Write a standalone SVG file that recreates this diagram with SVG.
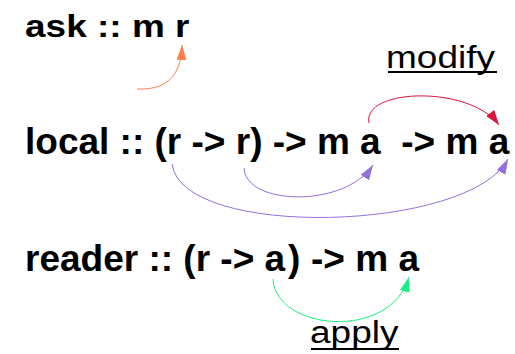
<svg xmlns="http://www.w3.org/2000/svg" width="515" height="354" viewBox="0 0 515 354">
  <style>
    .sig { font-family: "Liberation Sans", Arial, sans-serif; font-weight: bold; font-size: 37px; fill: #000; }
    .lbl { font-family: "Liberation Sans", Arial, sans-serif; font-size: 37px; fill: #000; }
    .ul { stroke: #000; stroke-width: 2; }
    .conn { fill: none; stroke-width: 1; }
  </style>
  <defs>
    <marker id="ah-orange" markerUnits="userSpaceOnUse" markerWidth="15" markerHeight="10" refX="15" refY="5" orient="auto"><path d="M0,0 L15,5 L0,10 z" fill="#ff7f50"/></marker>
    <marker id="ah-red" markerUnits="userSpaceOnUse" markerWidth="15" markerHeight="10" refX="15" refY="5" orient="auto"><path d="M0,0 L15,5 L0,10 z" fill="#dc143c"/></marker>
    <marker id="ah-purple" markerUnits="userSpaceOnUse" markerWidth="15" markerHeight="10" refX="15" refY="5" orient="auto"><path d="M0,0 L15,5 L0,10 z" fill="#9370db"/></marker>
    <marker id="ah-green" markerUnits="userSpaceOnUse" markerWidth="15" markerHeight="10" refX="15" refY="5" orient="auto"><path d="M0,0 L15,5 L0,10 z" fill="#1bee80"/></marker>
  </defs>

  <g id="ask">
    <text class="sig" transform="translate(25,36.5) scale(1,0.83)" x="0" y="0">ask :: m r</text>
  </g>

  <g id="modify-label">
    <text class="lbl" transform="translate(386,67.5) scale(1,0.85)" x="0" y="0">modify</text>
    <line class="ul" x1="388" y1="72" x2="497" y2="72"/>
  </g>

  <g id="local">
    <text class="sig" x="25" y="154">local :: (r -&gt; r) -&gt; m a<tspan x="401.3">-&gt; m a</tspan></text>
  </g>

  <g id="reader">
    <text class="sig" x="25" y="271">reader :: (r -&gt; a<tspan x="288">)</tspan><tspan x="311">-&gt; m a</tspan></text>
  </g>

  <g id="apply-label">
    <text class="lbl" transform="translate(310,343) scale(1,0.85)" x="0" y="0">apply</text>
    <line class="ul" x1="311" y1="349" x2="399" y2="349"/>
  </g>

  <g id="connectors">
    <path class="conn" stroke="#ff7f50" marker-end="url(#ah-orange)" d="M137,89 C165,90 181,78 182,45"/>
    <path class="conn" stroke="#dc143c" marker-end="url(#ah-red)" d="M369,123 C362,88 470,85 499,125"/>
    <path class="conn" stroke="#9370db" marker-end="url(#ah-purple)" d="M244,168 C246,206 345,208 373,165"/>
    <path class="conn" stroke="#9370db" marker-end="url(#ah-purple)" d="M172,164 C182,240 470,232 508,159"/>
    <path class="conn" stroke="#1bee80" marker-end="url(#ah-green)" d="M273,279 C275,330 390,342 409,277"/>
  </g>
</svg>
